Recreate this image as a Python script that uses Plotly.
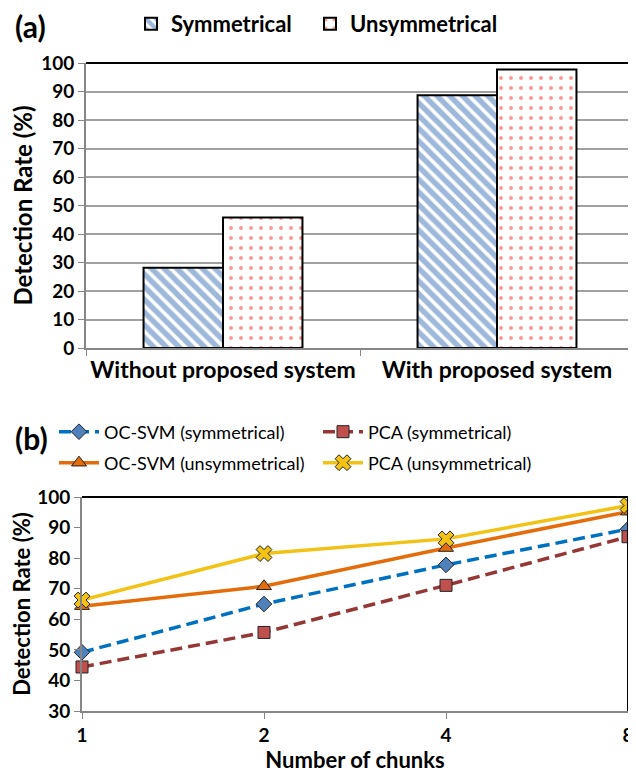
import plotly.graph_objects as go

# ---------------- data ----------------
categories = ["Without proposed system", "With proposed system"]
series_names = ["Symmetrical", "Unsymmetrical"]
symmetrical = [28.2, 88.7]
unsymmetrical = [45.8, 97.7]

chunks = [1, 2, 4, 8]
chunk_labels = ["1", "2", "4", "8"]
ocsvm_sym = [49.2, 65.0, 77.8, 89.5]
pca_sym = [44.4, 55.7, 71.1, 87.0]
ocsvm_unsym = [64.3, 70.8, 83.3, 95.2]
pca_unsym = [66.3, 81.5, 86.3, 97.2]

FONT = "Lato"
OFF = 8  # page body margin
W, H = 636 - OFF, 775 - OFF

def fx(px):
    return (px - OFF) / W

def fy(py):
    return 1 - (py - OFF) / H

fig = go.Figure()

# ---------------- (a) bars ----------------
fig.add_trace(go.Bar(
    x=categories, y=symmetrical, name="<b>" + series_names[0] + "</b>",
    xaxis="x", yaxis="y", legend="legend", showlegend=True,
    marker=dict(color="white", line=dict(color="black", width=2),
                pattern=dict(shape="\\", fgcolor="#3C72B8", bgcolor="white",
                             size=9, solidity=0.6)),
))
fig.add_trace(go.Bar(
    x=categories, y=unsymmetrical, name="<b>" + series_names[1] + "</b>",
    xaxis="x", yaxis="y", legend="legend4", showlegend=True,
    marker=dict(color="white", line=dict(color="black", width=2),
                pattern=dict(shape=".", fgcolor="#F83030", bgcolor="white",
                             size=10, solidity=0.12)),
))

# ---------------- (b) lines ----------------
series = [
    ("OC-SVM (symmetrical)", ocsvm_sym, "#0070C0", "12px,6px", "diamond", "#4F81BD", 12, "legend2"),
    ("PCA (symmetrical)", pca_sym, "#953735", "12px,6px", "square", "#C0504D", 12, "legend2"),
    ("OC-SVM (unsymmetrical)", ocsvm_unsym, "#E46C0A", "solid", "triangle-up", "#E46C0A", 13, "legend3"),
    ("PCA (unsymmetrical)", pca_unsym, "#F2C314", "solid", "x", "#F2C314", 14, "legend3"),
]
for name, vals, lc, dash, sym, mc, ms, lg in series:
    fig.add_trace(go.Scatter(
        x=chunks, y=vals, name=name, mode="lines+markers",
        xaxis="x2", yaxis="y2", legend=lg, showlegend=True, cliponaxis=False,
        line=dict(color=lc, width=3.5, dash=dash),
        marker=dict(symbol=sym, size=ms, color=mc,
                    line=dict(color="#222222", width=1)),
    ))

axis_grey = "#868686"

top_legend_style = dict(
    orientation="h", xanchor="left", yanchor="middle", visible=True,
    font=dict(size=22, family=FONT),
    bgcolor="rgba(0,0,0,0)", itemwidth=30,
)

fig.update_layout(
    width=W, height=H,
    showlegend=True,
    margin=dict(l=0, r=0, t=0, b=0, autoexpand=False),
    paper_bgcolor="white", plot_bgcolor="white",
    font=dict(family=FONT, color="black"),
    barmode="group", bargap=0.42, bargroupgap=0,
    xaxis=dict(
        domain=[fx(86), fx(634)], anchor="y", automargin=False,
        showline=True, linecolor=axis_grey, linewidth=2,
        ticks="outside", tickson="boundaries", ticklen=6, tickcolor=axis_grey,
        tickangle=0,
        tickfont=dict(size=23, family=FONT, weight="bold"),
        showgrid=False,
    ),
    yaxis=dict(
        domain=[fy(348), fy(63)], anchor="x", automargin=False,
        range=[0, 100], dtick=10,
        showline=True, linecolor=axis_grey, linewidth=2,
        ticks="outside", ticklen=6, tickcolor=axis_grey,
        showgrid=True, gridcolor="#A0A0A0", gridwidth=1.8,
        tickfont=dict(size=19, family=FONT, weight="bold"),
        title=dict(text="Detection Rate (%)", standoff=6,
                   font=dict(size=24, family=FONT, weight="bold")),
        zeroline=False,
    ),
    xaxis2=dict(
        domain=[fx(82), fx(628)], anchor="y2", automargin=False,
        type="log", range=[0, 0.90309],
        tickvals=chunks, ticktext=chunk_labels,
        showline=True, linecolor=axis_grey, linewidth=2,
        ticks="outside", ticklen=6, tickcolor=axis_grey,
        showgrid=False, tickangle=0,
        tickfont=dict(size=19, family=FONT, weight="bold"),
        title=dict(text="Number of chunks", standoff=8,
                   font=dict(size=22, family=FONT, weight="bold")),
    ),
    yaxis2=dict(
        domain=[fy(711), fy(497)], anchor="x2", automargin=False,
        range=[30, 100], dtick=10,
        showline=True, linecolor=axis_grey, linewidth=2,
        ticks="outside", ticklen=6, tickcolor=axis_grey,
        showgrid=False, zeroline=False,
        tickfont=dict(size=19, family=FONT, weight="bold"),
        title=dict(text="Detection Rate (%)", standoff=8,
                   font=dict(size=22, family=FONT, weight="bold")),
    ),
    legend=dict(x=fx(131), y=fy(24), **top_legend_style),
    legend4=dict(x=fx(310), y=fy(24), **top_legend_style),
    legend2=dict(
        orientation="h", x=fx(54), y=fy(432), xanchor="left", yanchor="middle",
        font=dict(size=18, family=FONT), visible=True,
        bgcolor="rgba(0,0,0,0)", entrywidth=209, itemwidth=40,
    ),
    legend3=dict(
        orientation="h", x=fx(54), y=fy(463), xanchor="left", yanchor="middle",
        font=dict(size=18, family=FONT), visible=True,
        bgcolor="rgba(0,0,0,0)", entrywidth=209, itemwidth=40,
    ),
    annotations=[
        dict(text="<b>(a)</b>", x=fx(13), y=fy(26), xref="paper", yref="paper",
             xanchor="left", yanchor="middle", showarrow=False,
             font=dict(size=30, family=FONT)),
        dict(text="<b>(b)</b>", x=fx(13), y=fy(438), xref="paper", yref="paper",
             xanchor="left", yanchor="middle", showarrow=False,
             font=dict(size=30, family=FONT)),
    ],
    shapes=[
        dict(type="line", xref="x domain", yref="y domain", x0=0, x1=1, y0=1, y1=1,
             line=dict(color="black", width=2)),
        dict(type="line", xref="x domain", yref="y domain", x0=1, x1=1, y0=0, y1=1,
             line=dict(color="black", width=2)),
        dict(type="line", xref="x2 domain", yref="y2 domain", x0=0, x1=1, y0=1, y1=1,
             line=dict(color="black", width=2)),
        dict(type="line", xref="x2 domain", yref="y2 domain", x0=1, x1=1, y0=0, y1=1,
             line=dict(color="black", width=2)),
    ],
)

fig.write_html("out.html")
